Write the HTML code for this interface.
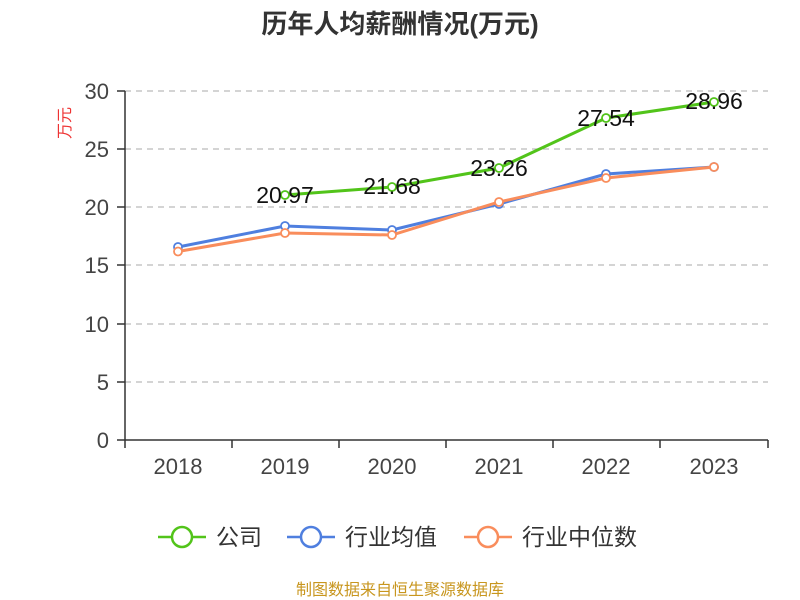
<!DOCTYPE html>
<html><head><meta charset="utf-8"><style>
html,body{margin:0;padding:0;background:#fff;width:800px;height:600px;overflow:hidden}
text{font-family:"Liberation Sans","Noto Sans CJK SC",sans-serif}
</style></head><body>
<svg width="800" height="600" viewBox="0 0 800 600" xmlns="http://www.w3.org/2000/svg">
<text x="400" y="33" text-anchor="middle" font-size="26" font-weight="bold" fill="#333">历年人均薪酬情况(万元)</text>
<text transform="translate(70,123) rotate(-90)" text-anchor="middle" font-size="16" fill="#e33">万元</text>
<g stroke="#bbb" stroke-dasharray="6,5" stroke-width="1.3">
<line x1="125" x2="768" y1="91" y2="91"/><line x1="125" x2="768" y1="149" y2="149"/>
<line x1="125" x2="768" y1="207" y2="207"/><line x1="125" x2="768" y1="265" y2="265"/>
<line x1="125" x2="768" y1="324" y2="324"/><line x1="125" x2="768" y1="382" y2="382"/>
</g>
<g stroke="#333" stroke-width="1.5">
<line x1="125" y1="91" x2="125" y2="440"/>
<line x1="117" x2="125" y1="91" y2="91"/><line x1="117" x2="125" y1="149" y2="149"/>
<line x1="117" x2="125" y1="207" y2="207"/><line x1="117" x2="125" y1="265" y2="265"/>
<line x1="117" x2="125" y1="324" y2="324"/><line x1="117" x2="125" y1="382" y2="382"/>
<line x1="117" x2="125" y1="440" y2="440"/>
<line x1="125" y1="440" x2="768" y2="440"/>
<line x1="125" x2="125" y1="440" y2="448"/><line x1="232" x2="232" y1="440" y2="448"/>
<line x1="339" x2="339" y1="440" y2="448"/><line x1="446" x2="446" y1="440" y2="448"/>
<line x1="553" x2="553" y1="440" y2="448"/><line x1="660" x2="660" y1="440" y2="448"/>
<line x1="768" x2="768" y1="440" y2="448"/>
</g>
<g font-size="22" fill="#444" text-anchor="end">
<text x="109" y="99">30</text><text x="109" y="157">25</text><text x="109" y="215">20</text>
<text x="109" y="273">15</text><text x="109" y="332">10</text><text x="109" y="390">5</text><text x="109" y="448">0</text>
</g>
<g font-size="22" fill="#444" text-anchor="middle">
<text x="178" y="474">2018</text><text x="285" y="474">2019</text><text x="392" y="474">2020</text>
<text x="499" y="474">2021</text><text x="606" y="474">2022</text><text x="714" y="474">2023</text>
</g>
<polyline fill="none" stroke="#4f7fdf" stroke-width="3" points="178,247 285,226 392,230 499,204 606,174 714,167"/>
<g fill="#fff" stroke="#4f7fdf" stroke-width="1.8">
<circle cx="178" cy="247" r="4"/><circle cx="285" cy="226" r="4"/><circle cx="392" cy="230" r="4"/>
<circle cx="499" cy="204" r="4"/><circle cx="606" cy="174" r="4"/><circle cx="714" cy="167" r="4"/></g>
<polyline fill="none" stroke="#f98d5c" stroke-width="3" points="178,251.5 285,233 392,235 499,202 606,178 714,167"/>
<g fill="#fff" stroke="#f98d5c" stroke-width="1.8">
<circle cx="178" cy="251.5" r="4"/><circle cx="285" cy="233" r="4"/><circle cx="392" cy="235" r="4"/>
<circle cx="499" cy="202" r="4"/><circle cx="606" cy="178" r="4"/><circle cx="714" cy="167" r="4"/></g>
<polyline fill="none" stroke="#52c41a" stroke-width="3" points="285,195 392,187 499,168 606,118 714,102"/>
<g fill="#fff" stroke="#52c41a" stroke-width="1.8">
<circle cx="285" cy="195" r="4"/><circle cx="392" cy="187" r="4"/><circle cx="499" cy="168" r="4"/>
<circle cx="606" cy="118" r="4"/><circle cx="714" cy="102" r="4"/></g>
<g font-size="23" fill="#111" text-anchor="middle">
<text x="285" y="203">20.97</text><text x="392" y="194">21.68</text><text x="499" y="176">23.26</text>
<text x="606" y="126">27.54</text><text x="714" y="109">28.96</text>
</g>
<g stroke-width="2.5" fill="#fff">
<line x1="158" x2="206" y1="537" y2="537" stroke="#52c41a"/><circle cx="182" cy="537" r="10" stroke="#52c41a"/>
<line x1="287" x2="335" y1="537" y2="537" stroke="#4f7fdf"/><circle cx="311" cy="537" r="10" stroke="#4f7fdf"/>
<line x1="464" x2="512" y1="537" y2="537" stroke="#f98d5c"/><circle cx="488" cy="537" r="10" stroke="#f98d5c"/>
</g>
<g font-size="23" fill="#333">
<text x="216" y="545">公司</text><text x="345" y="545">行业均值</text><text x="522" y="545">行业中位数</text>
</g>
<text x="400" y="595" text-anchor="middle" font-size="16" fill="#c8961e">制图数据来自恒生聚源数据库</text>
</svg>
</body></html>
